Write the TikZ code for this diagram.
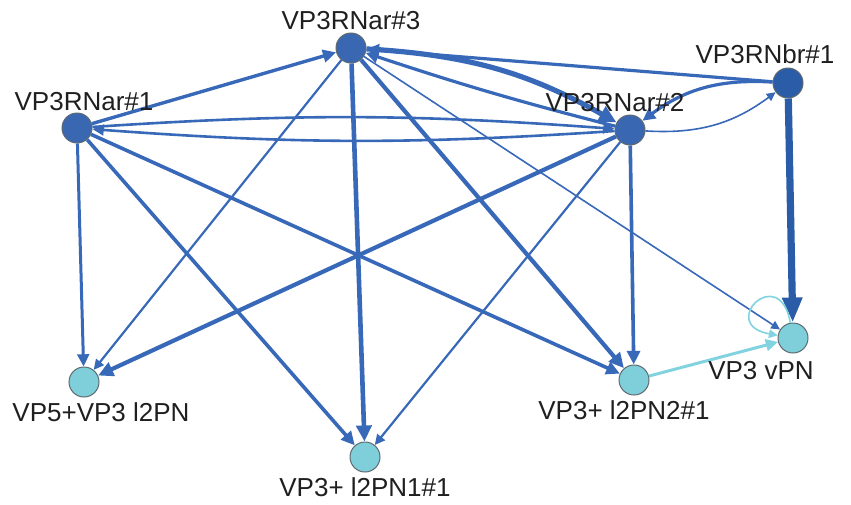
\documentclass[tikz,border=0pt]{standalone}
\usepackage{fontspec}
\setmainfont{Liberation Sans}
\usetikzlibrary{positioning,arrows.meta}
\definecolor{chub}{HTML}{3A67B1}
\definecolor{chubdk}{HTML}{2B5CA8}
\definecolor{clink}{HTML}{3868B8}
\definecolor{cleaf}{HTML}{7FCFDB}
\definecolor{cleaflink}{HTML}{80D3DF}
\definecolor{cring}{HTML}{5F6B70}

\begin{document}
\begin{tikzpicture}[x=0.5pt, y=0.5pt, font=\fontsize{13}{15}\selectfont,
  >={Triangle[length=2.5pt 2.4, width=2.5pt 2.2]},
  hub/.style={circle, draw=cring, line width=0.5pt, fill=chub, minimum size=15pt, inner sep=0pt},
  leaf/.style={hub, fill=cleaf},
  lbl/.style={inner sep=0pt, text=black!88},
  link/.style={draw=clink, ->},
  leaflink/.style={draw=cleaflink, ->}]
\useasboundingbox (0,0) rectangle (851,-504);
\node[hub] (a3) at (351,-48) {};
\node[hub] (a1) at (77,-128) {};
\node[hub] (a2) at (630,-130) {};
\node[hub, fill=chubdk] (b1) at (788,-83) {};
\node[leaf] (l5) at (84,-382) {};
\node[leaf] (l1) at (365,-457) {};
\node[leaf] (l2) at (634,-380) {};
\node[leaf] (vpn) at (793,-338) {};
\draw[link, line width=1.7pt] (a1) -- (a3);
\draw[link, line width=1.3pt] (a1) to[bend left=4] (a2);
\draw[link, line width=1.3pt] (a2) to[bend left=4] (a1);
\draw[link, line width=1.5pt] (a1) -- (l5);
\draw[link, line width=1.8pt] (a1) -- (l1);
\draw[link, line width=1.8pt] (a1) -- (l2);
\draw[link, line width=1.1pt] (a3) -- (l5);
\draw[link, line width=2.1pt] (a2) -- (l5);
\draw[link, line width=2.3pt] (a3) -- (l1);
\draw[link, line width=1.1pt] (a2) -- (l1);
\draw[link, line width=2.1pt] (a3) -- (l2);
\draw[link, line width=1.8pt] (a2) -- (l2);
\draw[link, line width=0.8pt] (a3) -- (vpn);
\draw[link, line width=2.6pt] (a3) to[bend left=13] (a2);
\draw[link, line width=1.6pt] (a2) to[bend left=2] (a3);
\draw[link, line width=1.6pt] (b1) -- (a3);
\draw[link, line width=1.6pt] (b1) to[bend right=20] (a2);
\draw[link, line width=0.8pt] (a2) to[bend right=20] (b1);
\draw[draw=chubdk, line width=3.6pt, -{Triangle[length=12.5pt, width=9.5pt]}] (b1) -- (vpn);
\draw[leaflink, line width=1.5pt] (l2) -- (vpn);
\draw[leaflink, line width=0.8pt] (vpn) to[out=100, in=170, min distance=31pt] (vpn);
\node[lbl, above=1pt of a3] (a3t) {VP3RNar\#3};
\node[lbl, above=0.5pt of a1, xshift=3.5pt] (a1t) {VP3RNar\#1};
\node[lbl, above=1pt of a2, xshift=-7.5pt] (a2t) {VP3RNar\#2};
\node[lbl, above=1.5pt of b1, xshift=-11.5pt] (b1t) {VP3RNbr\#1};
\node[lbl, below=2.5pt of l5, xshift=8.5pt] (l5t) {VP5+VP3 l2PN};
\node[lbl, below=2.5pt of l1] (l1t) {VP3+ l2PN1\#1};
\node[lbl, below=2.5pt of l2, xshift=-5pt] (l2t) {VP3+ l2PN2\#1};
\node[lbl, below=3.5pt of vpn, xshift=-16pt] (vpnt) {VP3 vPN};
\end{tikzpicture}
\end{document}
